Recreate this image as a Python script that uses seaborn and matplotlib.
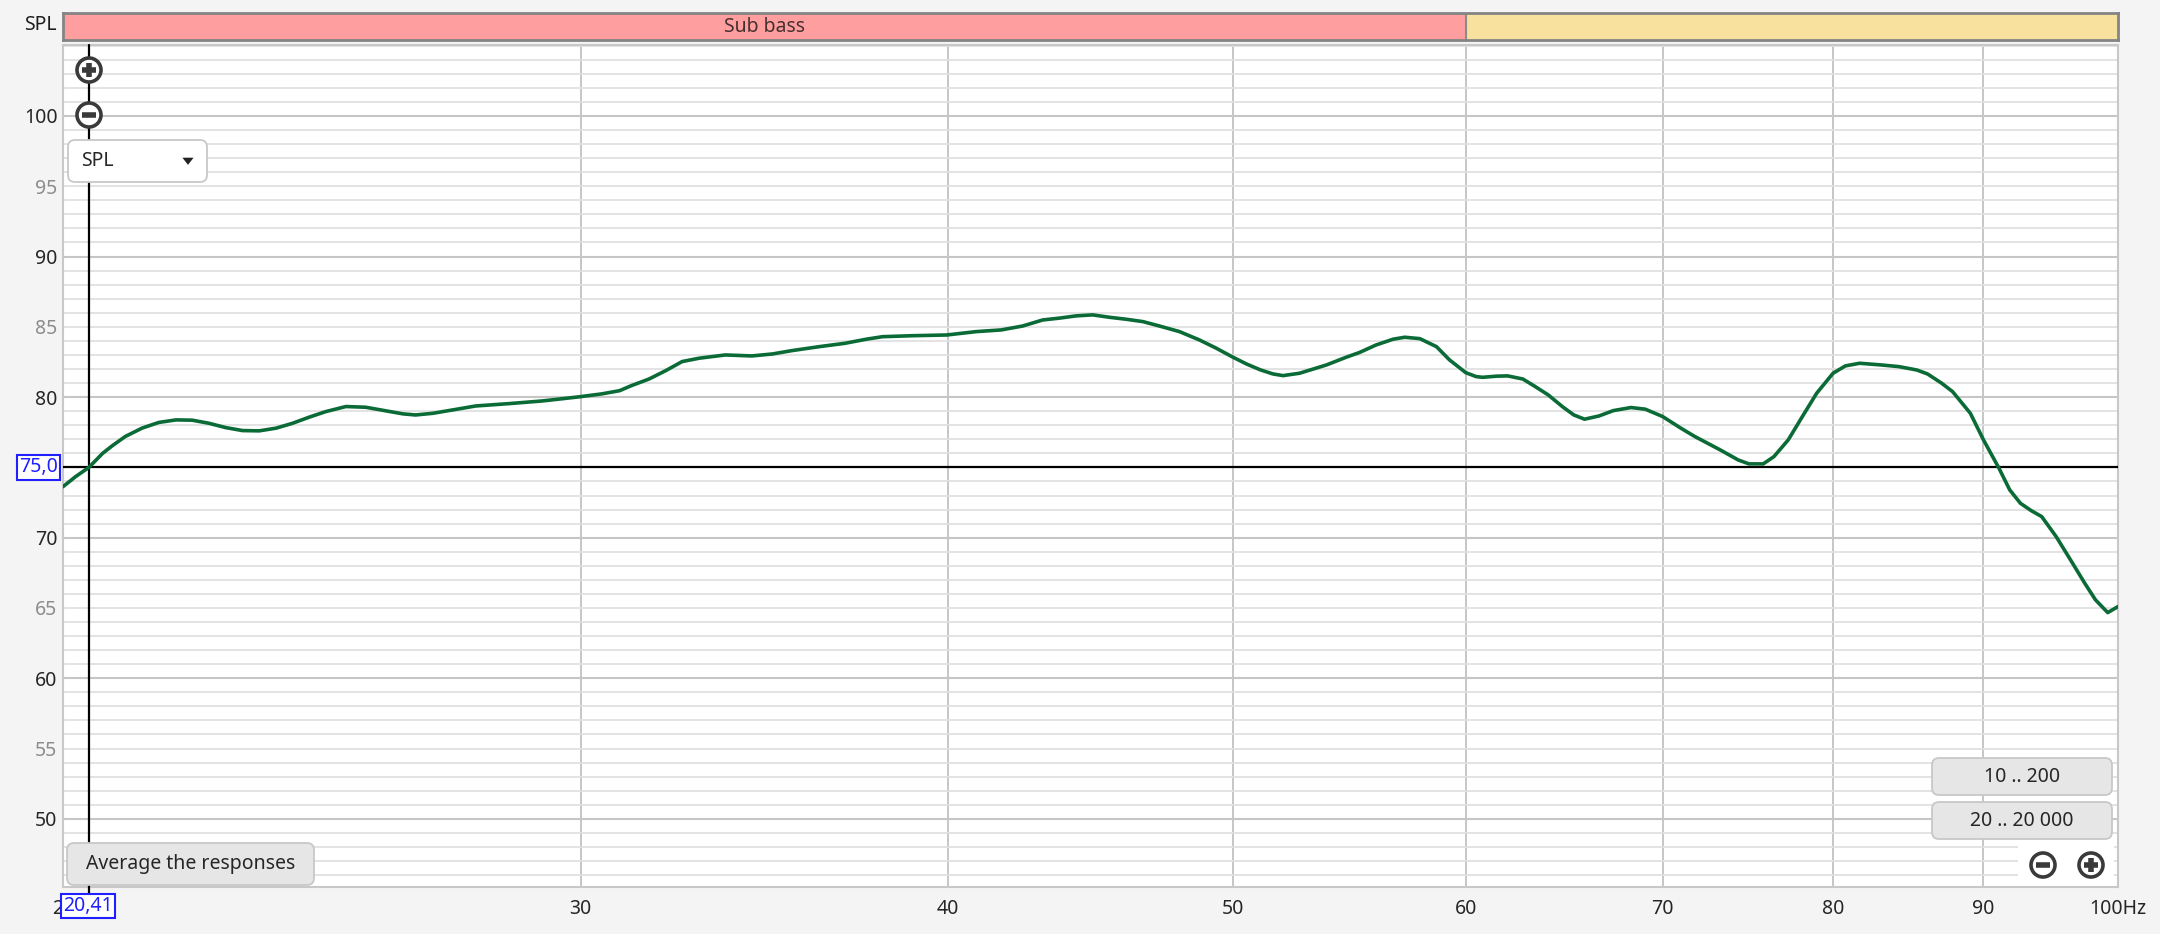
#!/usr/bin/env python3
# -*- coding: utf-8 -*-
"""
REW style SPL plot, 20..100 Hz
"""
import matplotlib
matplotlib.use("Agg")
import matplotlib.pyplot as plt
import seaborn as sns
from matplotlib.patches import FancyBboxPatch, Circle, Rectangle, Polygon
from matplotlib.ticker import FixedLocator, MultipleLocator, NullLocator, FuncFormatter

freq_hz = [20.0, 20.2, 20.41, 20.63, 20.79, 21.0, 21.28, 21.56, 21.85, 22.13,
           22.42, 22.72, 23.02, 23.32, 23.63, 23.94, 24.25, 24.57, 24.96, 25.35,
           25.76, 26.1, 26.36, 26.72, 27.14, 27.63, 28.37, 29.12, 29.96, 30.5,
           30.93, 31.2, 31.65, 32.07, 32.48, 32.92, 33.6, 34.3, 34.86, 35.4,
           36.16, 36.9, 37.52, 38.0, 38.91, 39.96, 40.89, 41.7, 42.41, 43.08,
           43.65, 44.22, 44.8, 45.39, 45.99, 46.6, 47.2, 47.95, 48.7, 49.35,
           50.0, 50.53, 51.1, 51.59, 52.0, 52.68, 53.8, 54.64, 55.2, 55.93,
           56.68, 57.2, 57.88, 58.64, 59.24, 60.0, 60.49, 60.8, 61.46, 62.0,
           62.74, 63.3, 64.0, 64.74, 65.3, 65.85, 66.6, 67.35, 68.29, 69.06,
           70.0, 71.01, 71.8, 73.24, 74.27, 74.9, 75.74, 76.38, 77.24, 78.1,
           78.98, 80.0, 80.77, 81.68, 83.06, 84.23, 85.42, 86.14, 87.1, 87.85,
           89.08, 90.0, 91.1, 91.87, 92.64, 93.42, 94.2, 95.27, 96.35, 97.43,
           98.25, 99.2, 100.0]
spl_db = [73.63, 74.35, 75.0, 76.0, 76.55, 77.2, 77.8, 78.2, 78.38, 78.36,
          78.14, 77.83, 77.62, 77.6, 77.79, 78.14, 78.57, 78.97, 79.33, 79.28,
          79.02, 78.81, 78.73, 78.85, 79.09, 79.37, 79.54, 79.73, 80.02, 80.23,
          80.46, 80.8, 81.29, 81.89, 82.53, 82.77, 83.0, 82.93, 83.07, 83.31,
          83.59, 83.83, 84.12, 84.3, 84.37, 84.42, 84.66, 84.78, 85.06, 85.49,
          85.62, 85.78, 85.85, 85.68, 85.54, 85.37, 85.06, 84.66, 84.07, 83.48,
          82.84, 82.36, 81.93, 81.65, 81.53, 81.7, 82.29, 82.84, 83.17, 83.71,
          84.12, 84.26, 84.16, 83.59, 82.65, 81.74, 81.46, 81.41, 81.49, 81.51,
          81.29, 80.8, 80.16, 79.3, 78.73, 78.43, 78.66, 79.04, 79.26, 79.14,
          78.62, 77.79, 77.19, 76.24, 75.53, 75.25, 75.25, 75.77, 76.96, 78.62,
          80.28, 81.7, 82.22, 82.41, 82.29, 82.17, 81.93, 81.65, 80.99, 80.39,
          78.85, 76.96, 74.94, 73.4, 72.45, 71.93, 71.5, 70.08, 68.42, 66.76,
          65.58, 64.67, 65.1]

band_edges = [20, 60, 100]
band_names = ["Sub bass", ""]
band_colors = ["#ff9e9e", "#f8e19e"]

x_ticks = [20, 30, 40, 50, 60, 70, 80, 90, 100]
x_tick_labels = ["20", "30", "40", "50", "60", "70", "80", "90", "100Hz"]
y_labelled = (50, 100)
y_range = (45.15, 105.05)

cursor_freq = 20.41
cursor_spl = 75.0

W, H = 2160, 934
BG = "#f4f4f4"
TXT = "#262626"

sns.set_style("white")
plt.rcParams["font.family"] = ["Noto Sans", "DejaVu Sans"]

fig = plt.figure(figsize=(W / 100, H / 100), dpi=100, facecolor=BG)

# plot area in pixel units
left, right, top, bottom = 63, 2118, 45, 887
ax = fig.add_axes([left / W, 1 - bottom / H, (right - left) / W, (bottom - top) / H])
ax.set_facecolor("white")

sns.lineplot(x=freq_hz, y=spl_db, ax=ax, color="#0b6b37", linewidth=2.6, zorder=5)
ax.lines[-1].set_solid_joinstyle("round")

ax.set_xscale("log")
ax.set_xlim(band_edges[0], band_edges[-1])
ax.set_ylim(*y_range)

ax.xaxis.set_major_locator(FixedLocator(x_ticks))
ax.xaxis.set_minor_locator(NullLocator())
ax.set_xticklabels(x_tick_labels)


def label_10(v, p):
    return f"{v:.0f}" if y_labelled[0] <= v <= y_labelled[1] else ""


def label_5(v, p):
    # the cursor value box hides the label under it
    if round(v) % 10 == 5 and y_labelled[0] <= v <= y_labelled[1] and round(v) != cursor_spl:
        return f"{v:.0f}"
    return ""


# 10 dB labels dark, 5 dB labels grey, 1 dB grid
ax.yaxis.set_major_locator(MultipleLocator(10))
ax.yaxis.set_minor_locator(MultipleLocator(1))
ax.yaxis.set_major_formatter(FuncFormatter(label_10))
ax.yaxis.set_minor_formatter(FuncFormatter(label_5))

ax.tick_params(axis="both", which="both", length=0, labelsize=14)
ax.tick_params(axis="y", which="both", pad=4)
ax.tick_params(axis="x", pad=9, labelcolor=TXT)
ax.tick_params(axis="y", which="major", labelcolor=TXT)
ax.tick_params(axis="y", which="minor", labelcolor="#8c8c8c")

ax.grid(axis="y", which="minor", color="#e0e0e0", linewidth=1.3)
ax.grid(axis="y", which="major", color="#c6c6c6", linewidth=1.5)
ax.grid(axis="x", which="major", color="#c6c6c6", linewidth=1.4)
ax.set_axisbelow(True)
for sp in ax.spines.values():
    sp.set_color("#c8c8c8")
    sp.set_linewidth(1.5)
ax.set_xlabel("")
ax.set_ylabel("")

# cursor
ax.axvline(cursor_freq, ymin=-0.008, color="black", linewidth=1.6, zorder=4, clip_on=False)
ax.axhline(cursor_spl, color="black", linewidth=1.6, zorder=4)
ax.annotate(f"{cursor_spl:.1f}".replace(".", ","), xy=(0, cursor_spl),
            xycoords=("axes fraction", "data"), xytext=(-5, 0), textcoords="offset pixels",
            ha="right", va="center", fontsize=14, color="#1f1fff",
            bbox=dict(boxstyle="square,pad=0.12", fc="white", ec="#1f1fff", lw=1.5),
            annotation_clip=False, zorder=10)
ax.annotate(f"{cursor_freq:.2f}".replace(".", ","), xy=(cursor_freq, 0),
            xycoords=("data", "axes fraction"), xytext=(-1, -9), textcoords="offset pixels",
            ha="center", va="top", fontsize=14, color="#1f1fff",
            bbox=dict(boxstyle="square,pad=0.1", fc="white", ec="#1f1fff", lw=1.5),
            annotation_clip=False, zorder=10)

# frequency band header
hdr = fig.add_axes([left / W, 1 - 40 / H, (right - left) / W, 27 / H])
hdr.set_xscale("log")
hdr.set_xlim(band_edges[0], band_edges[-1])
hdr.set_ylim(0, 1)
for lo, hi, name, c in zip(band_edges[:-1], band_edges[1:], band_names, band_colors):
    hdr.axvspan(lo, hi, color=c, lw=0)
    hdr.text((lo * hi) ** 0.5, 0.5, name, ha="center", va="center",
             fontsize=14, color="#45302f")
for e in band_edges[1:-1]:
    hdr.axvline(e, color="#8a8a8a", linewidth=1.5)
hdr.set_xticks([])
hdr.set_yticks([])
hdr.xaxis.set_minor_locator(NullLocator())
for sp in hdr.spines.values():
    sp.set_color("#848484")
    sp.set_linewidth(2)

# UI widgets drawn in pixel coordinates
ui = fig.add_axes([0, 0, 1, 1])
ui.set_xlim(0, W)
ui.set_ylim(H, 0)
ui.axis("off")
ui.patch.set_alpha(0)

ui.text(57, 25, "SPL", ha="right", va="center", fontsize=14, color="#1e1e1e")


def zoom_icon(x, y, plus):
    ui.add_patch(Circle((x, y), 12, fc="white", ec="#3a3a3a", lw=2.6, zorder=3))
    ui.plot([x - 7, x + 7], [y, y], color="#3a3a3a", lw=4, solid_capstyle="butt", zorder=4)
    if plus:
        ui.plot([x, x], [y - 7, y + 7], color="#3a3a3a", lw=4, solid_capstyle="butt", zorder=4)


def button(x, y, w, h, label, fc="#e6e6e6", ha="center"):
    ui.add_patch(FancyBboxPatch((x, y), w, h, boxstyle="round,pad=0,rounding_size=7",
                                fc=fc, ec="#c8c8c8", lw=1.3, zorder=3))
    tx = x + w / 2 if ha == "center" else x + 13
    ui.text(tx, y + h / 2, label, ha=ha, va="center", fontsize=14, color=TXT, zorder=4)


zoom_icon(89, 70, True)
zoom_icon(89, 115, False)

button(68, 140, 139, 42, "SPL", fc="white", ha="left")
ui.add_patch(Polygon([(181, 157), (195, 157), (188, 166)], closed=True, fc="#222222", zorder=4))

button(67, 843, 247, 42, "Average the responses")
button(1932, 758, 180, 37, "10 .. 200")
button(1932, 802, 180, 37, "20 .. 20 000")

ui.add_patch(Rectangle((2018, 846), 96, 36, fc="white", ec="none", zorder=2))
zoom_icon(2043, 865, False)
zoom_icon(2091, 865, True)

fig.savefig("out.png", dpi=100, facecolor=BG)
